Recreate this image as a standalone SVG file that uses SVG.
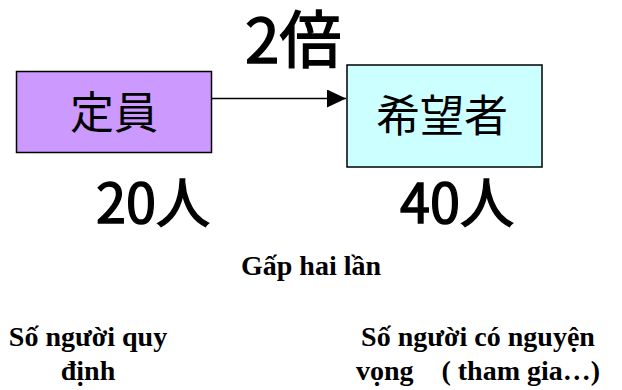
<svg xmlns="http://www.w3.org/2000/svg" width="622" height="390" viewBox="0 0 622 390">
<style>
.box{stroke:#000;stroke-width:1.5}
.cjk{font-family:"Noto Sans CJK JP","Noto Sans CJK SC",sans-serif;fill:#000}
.big{stroke:#000;stroke-width:1.4}
.vi{font-family:"Liberation Serif","Times New Roman",serif;font-weight:bold;fill:#000;font-size:28px;text-anchor:middle}
.conn{stroke:#000;stroke-width:1.5;fill:none}
</style>
<defs>
<marker id="arrow" markerWidth="20" markerHeight="18" refX="19" refY="9" orient="auto" markerUnits="userSpaceOnUse">
<path d="M0,0 L19,9 L0,18 Z" fill="#000"/>
</marker>
</defs>
<rect width="622" height="390" fill="#fff"/>
<g id="connectors">
<line class="conn" x1="210" y1="98.5" x2="346" y2="98.5" marker-end="url(#arrow)"/>
</g>
<g id="label-2bai">
<text class="cjk big" x="245" y="63" font-size="62">2倍</text>
</g>
<g id="node-teiin">
<rect class="box" x="16.5" y="71.5" width="195" height="81" fill="#CC99FF"/>
<text class="cjk" x="114" y="129" font-size="44" text-anchor="middle">定員</text>
</g>
<g id="node-kibousha">
<rect class="box" x="347" y="65" width="195" height="102" fill="#CCFFFF"/>
<text class="cjk" x="442" y="132" font-size="44" text-anchor="middle">希望者</text>
</g>
<g id="label-20">
<text class="cjk big" x="96" y="223" font-size="54">20人</text>
</g>
<g id="label-40">
<text class="cjk big" x="400" y="223" font-size="54">40人</text>
</g>
<g id="caption">
<text class="vi" x="311" y="275">Gấp hai lần</text>
</g>
<g id="caption-left">
<text class="vi" x="88" y="346">Số người quy</text>
<text class="vi" x="88" y="380">định</text>
</g>
<g id="caption-right">
<text class="vi" x="478" y="346">Số người có nguyện</text>
<text class="vi" x="478" y="380">vọng&#160;&#160;&#160; ( tham gia…)</text>
</g>
</svg>
